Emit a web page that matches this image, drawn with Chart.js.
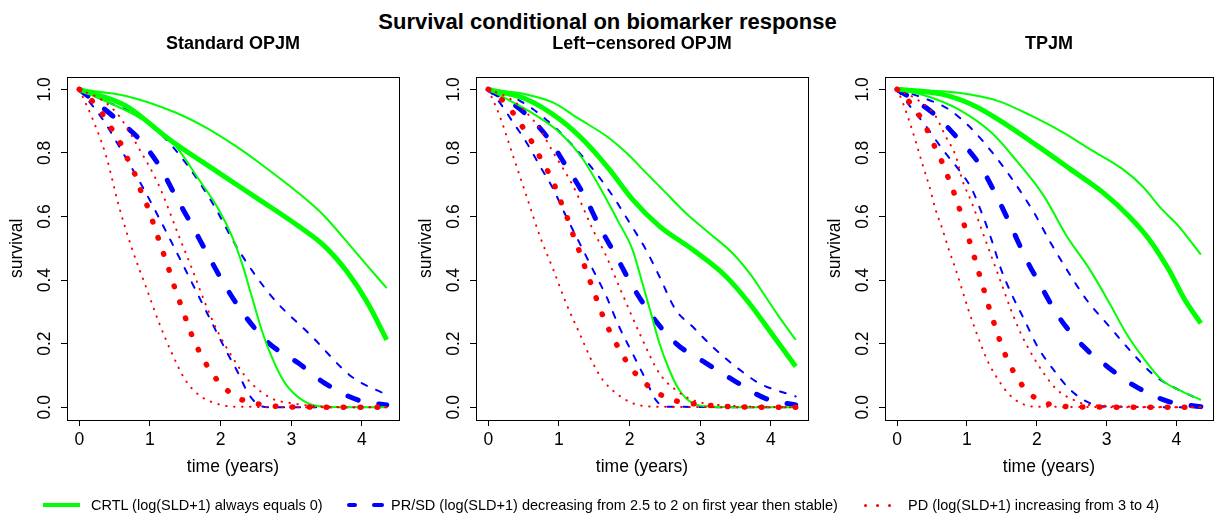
<!DOCTYPE html>
<html>
<head>
<meta charset="utf-8">
<script src="https://cdn.jsdelivr.net/npm/chart.js@4.4.0/dist/chart.umd.min.js"></script>
<style>
  body { margin: 0; background: #fff; font-family: "Liberation Sans", Arial, sans-serif; }
  #wrap { position: relative; width: 1215px; height: 519px; overflow: hidden; }
  #wrap canvas { position: absolute; top: 0; }
  #title { position: absolute; left: 0; width: 1215px; top: 9px; line-height: 26px; text-align: center; font-weight: bold; font-size: 22px; color: #000; }
  .leg { position: absolute; top: 496px; line-height: 18px; font-size: 14.5px; color: #000; white-space: nowrap; }
  .mark { position: absolute; }
</style>
</head>
<body>
<div id="wrap">
  <div id="title">Survival conditional on biomarker response</div>
  <canvas id="c1" width="405" height="519" style="left:0px"></canvas>
  <canvas id="c2" width="405" height="519" style="left:405px"></canvas>
  <canvas id="c3" width="405" height="519" style="left:810px"></canvas>

  <div class="mark" style="left:43px;top:503px;width:37px;height:4px;background:#00ff00"></div>
  <div class="leg" style="left:91px">CRTL (log(SLD+1) always equals 0)</div>

  <div class="mark" style="left:347px;top:503px;width:10px;height:4px;background:#0000ff;border-radius:2px"></div>
  <div class="mark" style="left:372px;top:503px;width:12px;height:4px;background:#0000ff;border-radius:2px"></div>
  <div class="leg" style="left:391px">PR/SD (log(SLD+1) decreasing from 2.5 to 2 on first year then stable)</div>

  <div class="mark" style="left:864px;top:504px;width:3px;height:3px;background:#ff0000;border-radius:50%"></div>
  <div class="mark" style="left:876px;top:504px;width:3px;height:3px;background:#ff0000;border-radius:50%"></div>
  <div class="mark" style="left:888px;top:504px;width:3px;height:3px;background:#ff0000;border-radius:50%"></div>
  <div class="leg" style="left:908px">PD (log(SLD+1) increasing from 3 to 4)</div>
</div>

<script>
// tick labels
let xTicks = [0, 1, 2, 3, 4];
let yTicks = [0, 0.2, 0.4, 0.6, 0.8, 1.0];

// ---- Standard OPJM : [time, survival] ----
let std_crtl = [[0,1],[0.66,0.948],[1.27,0.843],[1.97,0.738],[2.54,0.654],[3.1,0.57],[3.47,0.507],[3.8,0.423],[4.08,0.328],[4.35,0.212]];
let std_crtl_hi = [[0,1],[0.66,0.979],[1.36,0.927],[1.83,0.875],[2.21,0.822],[2.54,0.77],[3.15,0.665],[3.47,0.601],[3.8,0.517],[4.08,0.444],[4.35,0.375]];
let std_crtl_lo = [[0,1],[0.42,0.958],[0.89,0.906],[1.36,0.822],[1.69,0.717],[1.97,0.623],[2.16,0.538],[2.3,0.454],[2.44,0.349],[2.58,0.244],[2.72,0.16],[2.91,0.076],[3.19,0.018],[3.47,0.002],[4.35,0]];
let std_prsd = [[0,1],[0.47,0.917],[0.85,0.843],[1.13,0.76],[1.36,0.665],[1.6,0.57],[1.83,0.475],[2.07,0.38],[2.35,0.286],[2.68,0.202],[3.1,0.139],[3.47,0.076],[3.94,0.023],[4.35,0.007]];
let std_prsd_hi = [[0,1],[0.42,0.958],[0.7,0.932],[1.13,0.864],[1.5,0.77],[1.88,0.644],[2.25,0.496],[2.72,0.349],[3.29,0.223],[3.85,0.097],[4.35,0.039]];
let std_prsd_lo = [[0,1],[0.33,0.906],[0.56,0.822],[0.94,0.675],[1.31,0.517],[1.69,0.349],[2.07,0.181],[2.25,0.107],[2.39,0.044],[2.54,0.007],[2.7,0],[4.35,0]];
let std_pd = [[0,1],[0.18,0.964],[0.33,0.922],[0.46,0.875],[0.59,0.828],[0.69,0.778],[0.8,0.726],[0.88,0.675],[0.98,0.623],[1.06,0.57],[1.14,0.517],[1.22,0.465],[1.3,0.412],[1.37,0.362],[1.46,0.309],[1.54,0.257],[1.63,0.207],[1.74,0.158],[1.87,0.109],[2.03,0.067],[2.22,0.032],[2.44,0.015],[2.7,0.005],[3.0,0.001],[4.35,0]];
let std_pd_hi = [[0,1],[0.33,0.965],[0.56,0.917],[0.85,0.812],[1.13,0.696],[1.41,0.538],[1.6,0.433],[1.78,0.328],[1.97,0.233],[2.16,0.16],[2.39,0.086],[2.72,0.028],[3.0,0.013],[3.47,0.002],[4.35,0]];
let std_pd_lo = [[0,1],[0.19,0.906],[0.38,0.79],[0.56,0.633],[0.75,0.496],[0.94,0.381],[1.13,0.265],[1.31,0.17],[1.5,0.086],[1.69,0.039],[1.92,0.013],[2.2,0.002],[4.35,0]];

// ---- Left-censored OPJM ----
let lc_crtl = [[0,1],[0.54,0.969],[1.01,0.906],[1.38,0.833],[1.71,0.749],[2.04,0.654],[2.42,0.57],[2.89,0.496],[3.36,0.412],[3.69,0.328],[3.97,0.244],[4.35,0.128]];
let lc_crtl_hi = [[0,1],[0.54,0.984],[0.92,0.958],[1.29,0.906],[1.67,0.853],[1.95,0.801],[2.23,0.738],[2.51,0.675],[2.79,0.612],[3.12,0.549],[3.45,0.486],[3.73,0.412],[3.92,0.349],[4.11,0.286],[4.35,0.212]];
let lc_crtl_lo = [[0,1],[0.31,0.964],[0.68,0.917],[1.01,0.864],[1.34,0.78],[1.62,0.675],[1.85,0.58],[2.04,0.496],[2.18,0.391],[2.3,0.297],[2.42,0.202],[2.56,0.118],[2.7,0.055],[2.89,0.013],[3.17,0.002],[4.35,0]];
let lc_prsd = [[0,1],[0.45,0.938],[0.82,0.854],[1.1,0.759],[1.36,0.665],[1.57,0.57],[1.81,0.475],[2.04,0.381],[2.32,0.286],[2.65,0.202],[3.08,0.139],[3.5,0.081],[3.92,0.028],[4.35,0.007]];
let lc_prsd_hi = [[0,1],[0.31,0.98],[0.63,0.938],[0.92,0.885],[1.2,0.822],[1.48,0.749],[1.76,0.665],[2.0,0.58],[2.23,0.496],[2.42,0.412],[2.65,0.307],[2.89,0.254],[3.17,0.191],[3.5,0.128],[3.83,0.076],[4.35,0.034]];
let lc_prsd_lo = [[0,1],[0.16,0.959],[0.35,0.896],[0.54,0.833],[0.73,0.759],[0.92,0.686],[1.1,0.601],[1.29,0.517],[1.48,0.433],[1.67,0.349],[1.85,0.254],[2.04,0.17],[2.23,0.086],[2.37,0.023],[2.51,0.002],[4.35,0]];
let lc_pd = [[0,1],[0.19,0.968],[0.35,0.926],[0.49,0.88],[0.62,0.833],[0.74,0.783],[0.86,0.735],[0.96,0.686],[1.05,0.633],[1.14,0.583],[1.22,0.53],[1.31,0.478],[1.39,0.426],[1.48,0.373],[1.56,0.323],[1.65,0.272],[1.76,0.221],[1.88,0.172],[2.01,0.126],[2.18,0.084],[2.37,0.049],[2.61,0.023],[2.84,0.013],[3.08,0.007],[3.6,0.001],[4.35,0]];
let lc_pd_hi = [[0,1],[0.31,0.97],[0.54,0.927],[0.73,0.875],[0.92,0.801],[1.2,0.696],[1.48,0.559],[1.67,0.475],[1.85,0.381],[2.14,0.233],[2.42,0.107],[2.65,0.055],[2.89,0.023],[3.26,0.007],[4.35,0]];
let lc_pd_lo = [[0,1],[0.16,0.917],[0.35,0.791],[0.54,0.665],[0.73,0.538],[0.92,0.433],[1.1,0.328],[1.29,0.233],[1.48,0.139],[1.62,0.086],[1.81,0.044],[2.04,0.013],[2.32,0.002],[4.35,0]];

// ---- TPJM ----
let tp_crtl = [[0,1],[0.65,0.984],[1.12,0.947],[1.59,0.885],[2.01,0.822],[2.48,0.749],[2.95,0.675],[3.32,0.601],[3.61,0.528],[3.89,0.433],[4.12,0.338],[4.35,0.264]];
let tp_crtl_hi = [[0,1],[0.88,0.989],[1.45,0.963],[1.92,0.917],[2.38,0.864],[2.76,0.812],[3.23,0.749],[3.51,0.696],[3.79,0.623],[4.03,0.57],[4.35,0.48]];
let tp_crtl_lo = [[0,1],[0.41,0.98],[0.88,0.937],[1.35,0.864],[1.73,0.77],[2.1,0.665],[2.43,0.538],[2.76,0.433],[3.04,0.328],[3.28,0.233],[3.51,0.16],[3.79,0.086],[4.08,0.05],[4.35,0.023]];
let tp_prsd = [[0,1],[0.51,0.926],[0.88,0.843],[1.16,0.77],[1.4,0.675],[1.63,0.57],[1.85,0.465],[2.06,0.381],[2.31,0.286],[2.67,0.191],[3.04,0.123],[3.42,0.065],[3.89,0.018],[4.35,0.002]];
let tp_prsd_hi = [[0,1],[0.41,0.97],[0.74,0.937],[1.07,0.875],[1.4,0.791],[1.68,0.707],[1.96,0.612],[2.2,0.517],[2.43,0.433],[2.71,0.339],[3.04,0.254],[3.37,0.17],[3.7,0.097],[4.03,0.055],[4.35,0.023]];
let tp_prsd_lo = [[0,1],[0.18,0.948],[0.41,0.885],[0.65,0.811],[0.88,0.748],[1.07,0.686],[1.21,0.612],[1.35,0.528],[1.49,0.433],[1.63,0.36],[1.82,0.276],[2.01,0.191],[2.24,0.118],[2.48,0.055],[2.76,0.013],[3.04,0.002],[4.35,0]];
let tp_pd = [[0,1],[0.18,0.959],[0.32,0.917],[0.44,0.868],[0.54,0.819],[0.65,0.768],[0.74,0.717],[0.83,0.665],[0.91,0.612],[0.98,0.559],[1.06,0.507],[1.13,0.454],[1.2,0.401],[1.27,0.349],[1.34,0.296],[1.42,0.244],[1.5,0.191],[1.6,0.141],[1.72,0.092],[1.87,0.049],[2.07,0.018],[2.31,0.005],[2.56,0.001],[4.35,0]];
let tp_pd_hi = [[0,1],[0.32,0.963],[0.55,0.916],[0.69,0.854],[0.84,0.79],[0.93,0.717],[1.07,0.643],[1.21,0.559],[1.35,0.475],[1.49,0.391],[1.63,0.307],[1.77,0.233],[1.92,0.17],[2.1,0.107],[2.29,0.055],[2.53,0.023],[2.76,0.007],[4.35,0]];
let tp_pd_lo = [[0,1],[0.08,0.959],[0.18,0.896],[0.27,0.833],[0.37,0.759],[0.46,0.696],[0.55,0.622],[0.65,0.559],[0.74,0.496],[0.84,0.433],[0.93,0.37],[1.02,0.307],[1.12,0.244],[1.21,0.191],[1.31,0.139],[1.45,0.086],[1.59,0.044],[1.73,0.018],[1.96,0.002],[4.35,0]];

// line looks (R style: lwd 4 for the estimate, lwd 2 for the bands)
let green = '#00ff00', blue = '#0000ff', red = '#ff0000';
let looks = {
  crtl:    { borderColor: green, borderWidth: 5, borderDash: [] },
  crtl_b:  { borderColor: green, borderWidth: 2, borderDash: [] },
  prsd:    { borderColor: blue, borderWidth: 5, borderDash: [11, 21], borderCapStyle: 'round' },
  prsd_b:  { borderColor: blue, borderWidth: 2, borderDash: [6, 10], borderCapStyle: 'round' },
  pd:      { borderColor: red, borderWidth: 5.5, borderDash: [0.5, 16.5], borderCapStyle: 'round' },
  pd_b:    { borderColor: red, borderWidth: 2, borderDash: [0.5, 7.5], borderCapStyle: 'round' }
};

function ds(points, look, order) {
  return Object.assign({
    data: points.map(p => ({ x: p[0], y: p[1] })),
    pointRadius: 0,
    fill: false,
    cubicInterpolationMode: 'monotone',
    order: order
  }, looks[look]);
}

// box round the plot + y labels turned like R does
let rBox = {
  id: 'rBox',
  afterDraw(chart) {
    let ctx = chart.ctx, a = chart.chartArea, y = chart.scales.y;
    ctx.save();
    ctx.strokeStyle = '#000';
    ctx.lineWidth = 1;
    ctx.strokeRect(Math.round(a.left) + 0.5, Math.round(a.top) + 0.5, Math.round(a.right - a.left), Math.round(a.bottom - a.top));
    ctx.fillStyle = '#000';
    ctx.font = '17.5px "Liberation Sans", Arial, sans-serif';
    ctx.textAlign = 'center';
    ctx.textBaseline = 'middle';
    y.ticks.forEach(t => {
      ctx.save();
      ctx.translate(a.left - 22, y.getPixelForValue(t.value));
      ctx.rotate(-Math.PI / 2);
      ctx.fillText(t.value.toFixed(1), 0, 0);
      ctx.restore();
    });
    ctx.restore();
  }
};

let font = '"Liberation Sans", Arial, sans-serif';

function panel(id, title, padL, padR, sets) {
  return new Chart(document.getElementById(id), {
    type: 'line',
    data: { datasets: sets },
    options: {
      responsive: false,
      animation: false,
      devicePixelRatio: 1,
      layout: { padding: { left: padL, right: padR, top: 33, bottom: 39 } },
      plugins: {
        legend: { display: false },
        tooltip: { enabled: false },
        title: {
          display: true, text: title, fullSize: false, color: '#000',
          font: { family: font, size: 18, weight: 'bold' },
          padding: { top: 0, bottom: 22 }
        }
      },
      scales: {
        x: {
          type: 'linear', min: -0.174, max: 4.524,
          afterBuildTicks: s => { s.ticks = xTicks.map(v => ({ value: v })); },
          afterFit: s => { s.height = 60; },
          grid: { drawOnChartArea: false, drawTicks: true, tickLength: 6, color: '#000' },
          border: { display: false },
          ticks: { color: '#000', font: { family: font, size: 17.5 }, padding: 4, autoSkip: false, maxRotation: 0 },
          title: { display: true, text: 'time (years)', color: '#000', font: { family: font, size: 17.5 }, padding: { top: 0, bottom: 2 } }
        },
        y: {
          type: 'linear', min: -0.04, max: 1.04,
          afterBuildTicks: s => { s.ticks = yTicks.map(v => ({ value: v })); },
          afterFit: s => { s.width = 67; },
          grid: { drawOnChartArea: false, drawTicks: true, tickLength: 6, color: '#000' },
          border: { display: false },
          ticks: { display: false },
          title: { display: true, text: 'survival', color: '#000', font: { family: font, size: 17.5 }, padding: { top: 7, bottom: 0 } }
        }
      }
    },
    plugins: [rBox]
  });
}

function nine(crtl, crtlHi, crtlLo, prsd, prsdHi, prsdLo, pd, pdHi, pdLo) {
  return [
    ds(pd, 'pd', 1), ds(pdHi, 'pd_b', 2), ds(pdLo, 'pd_b', 3),
    ds(crtl, 'crtl', 4), ds(crtlHi, 'crtl_b', 5), ds(crtlLo, 'crtl_b', 6),
    ds(prsd, 'prsd', 7), ds(prsdHi, 'prsd_b', 8), ds(prsdLo, 'prsd_b', 9)
  ];
}

panel('c1', 'Standard OPJM', 0, 6,
  nine(std_crtl, std_crtl_hi, std_crtl_lo, std_prsd, std_prsd_hi, std_prsd_lo, std_pd, std_pd_hi, std_pd_lo));
panel('c2', 'Left\u2212censored OPJM', 4, 2,
  nine(lc_crtl, lc_crtl_hi, lc_crtl_lo, lc_prsd, lc_prsd_hi, lc_prsd_lo, lc_pd, lc_pd_hi, lc_pd_lo));
panel('c3', 'TPJM', 8, 2,
  nine(tp_crtl, tp_crtl_hi, tp_crtl_lo, tp_prsd, tp_prsd_hi, tp_prsd_lo, tp_pd, tp_pd_hi, tp_pd_lo));
</script>
</body>
</html>
